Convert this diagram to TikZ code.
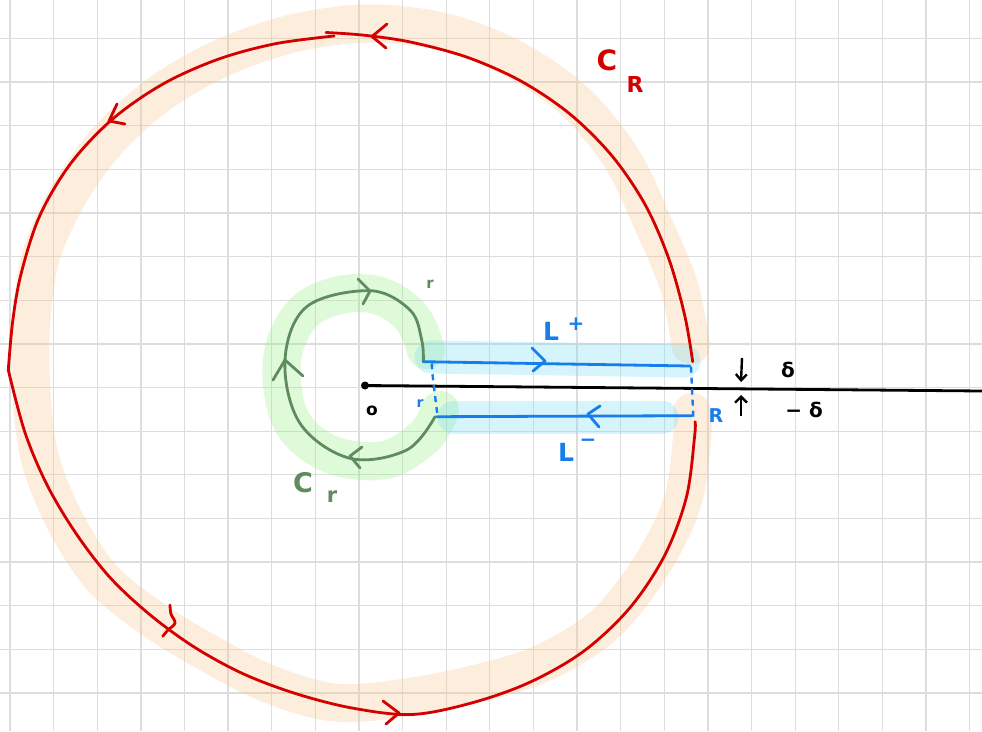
\documentclass[tikz,border=0pt]{standalone}
\usepackage{fontspec}
\setmainfont{DejaVu Sans}
\usetikzlibrary{arrows.meta}
\definecolor{redc}{RGB}{212,0,0}
\definecolor{greenc}{RGB}{95,140,95}
\definecolor{bluec}{RGB}{22,125,235}
\definecolor{orangeband}{RGB}{250,198,140}
\definecolor{greenband}{RGB}{150,240,128}
\definecolor{blueband}{RGB}{120,220,245}
\tikzset{
  gridline/.style={draw=gray!27,line width=1.3pt},
  band/.style={line width=38pt,line cap=round,line join=round,opacity=0.3},
  redline/.style={draw=redc,line width=2.8pt,line cap=round,line join=round},
  greenline/.style={draw=greenc,line width=2.8pt,line cap=round,line join=round},
  blueline/.style={draw=bluec,line width=2.8pt,line cap=round,line join=round},
  bluedash/.style={draw=bluec,line width=2.4pt,dash pattern=on 6pt off 5pt},
  lbl/.style={inner sep=0pt,outer sep=0pt},
}
\begin{document}
\begin{tikzpicture}[x=1pt,y=-1pt]
\useasboundingbox (0,0) rectangle (982,731);
\fill[white] (0,0) rectangle (982,731);
% grid
\foreach \i in {0,...,22} \draw[gridline] ({10+43.62*\i},0) -- ({10+43.62*\i},731);
\foreach \j in {0,...,15} \draw[gridline] (0,{38.3+43.65*\j}) -- (982,{38.3+43.65*\j});

% highlighter bands
\draw[band,draw=orangeband] plot[smooth,tension=0.55] coordinates {
 (690.7,345.4) (679.4,287.3) (652.3,222) (620.9,157.3) (574.2,100.7) (513.2,58.7) (443.9,32.1) (370.4,23.5) (297.7,32.3) (229.1,54.8) (166.3,89) (112.3,135.3) (70.2,192) (41.1,255.7) (31,324.2) (31.4,391.8) (40,458.6) (65.1,521.2) (101.8,577.6) (153.8,619.8) (209.9,653.9) (269.2,684.1) (334.8,702.6) (403.2,698) (471,685) (539.9,664.3) (603,626) (649.7,568.3) (682.5,501.9) (692.8,429) (692,412)};
\draw[band,draw=greenband] plot[smooth,tension=0.6] coordinates {
 (426,350) (412,318) (380,296) (340,295) (302,314) (282,360) (291,420) (330,454) (385,460) (425,436) (440,410)};
\draw[band,draw=blueband,line width=33pt] (431,357) -- (684,361);
\draw[band,draw=blueband,line width=33pt] (454,417) -- (662,417);

% axis
\coordinate (O) at (365,385.5);
\coordinate (axisend) at (982,391);
\draw[black,line width=2.8pt] (O) -- (axisend);
\fill[black] (O) circle (4pt);

% big circle C_R
\draw[redline] plot[smooth,tension=0.55] coordinates {
 (692.7,361.7) (684.9,316.3) (669.1,259.6) (645.6,205.5) (612.5,156.5) (570.5,114.5) (521.5,81.4) (467.6,57.4) (410.7,42.1) (363.9,35.2) (326,32.5)};
\draw[redline] plot[smooth,tension=0.55] coordinates {
 (334.2,36) (275.5,43.7) (218,59.3) (163,84) (113,118.7) (70.9,163.2) (39.7,215.9) (21.1,273.8) (12.7,321.3) (8.3,370)};
\draw[redline] plot[smooth,tension=0.55] coordinates {
 (8.3,370) (25,432.6) (47.5,485.8) (76.6,534.3) (110.3,577.8) (150.5,615.2) (194.8,647.4) (243.2,673.8) (295.8,693.6) (352,708) (411.7,714.5) (471.4,703) (529.5,682.4) (583.7,651.2) (629.7,608) (664.6,555.5) (686.5,496.8) (694.7,435.4) (695,421.7)};
% red arrow marks
\draw[redline] (387,24) -- (372,36.5) -- (386,48);
\draw[redline] (117,104) -- (109,121) -- (125,124);
\draw[redline] plot[smooth,tension=0.6] coordinates {(170,605) (171,614) (175,623) (168,630) (162.7,636.3)};
\draw[redline] (383,701) -- (399,713) -- (386,724);

% small circle C_r
\draw[greenline] plot[smooth,tension=0.6] coordinates {
 (423.3,361.7) (421.7,340) (410,310) (370,290.7) (306.7,306.7) (285,360) (300,423.3) (350,458.3) (406.7,450) (435,416.7)};
\draw[greenline] (358,279) -- (370,291) -- (363,304);
\draw[greenline] (273,380) -- (285,360) -- (303,376);
\draw[greenline] (362,447) -- (350,456) -- (360,468);

% L+ and L-
\coordinate (Lpa) at (423.3,361.7);
\coordinate (Lpb) at (690,366);
\coordinate (Lma) at (691.7,415.7);
\coordinate (Lmb) at (436.7,416.7);
\draw[blueline] (Lpa) -- (Lpb);
\draw[blueline] (Lma) -- (Lmb);
\draw[blueline] (532,348) -- (545,361) -- (533,371);
\draw[blueline] (600,406) -- (588,414) -- (599,427);
\coordinate (dl1) at (431.7,363.3);
\coordinate (dl2) at (437.3,415);
\coordinate (dr1) at (691,366.7);
\coordinate (dr2) at (693.3,416.7);
\draw[bluedash] (dl1) .. controls (433,385) and (436,400) .. (dl2);
\draw[bluedash] (dr1) -- (dr2);

% delta arrows
\coordinate (da1) at (742,358);
\coordinate (da2) at (741,382);
\coordinate (ua1) at (741,416);
\coordinate (ua2) at (741,395);
\draw[black,line width=2.4pt,-{Straight Barb[length=6pt,width=11pt]}] (da1) -- (da2);
\draw[black,line width=2.4pt,-{Straight Barb[length=6pt,width=12pt]}] (ua1) -- (ua2);

% labels
\node[lbl,text=redc,font=\bfseries\fontsize{28}{28}\selectfont] (CRc) at (607,60) {C};
\node[lbl,text=redc,font=\bfseries\fontsize{22}{22}\selectfont] (CRs) at (635,84) {R};
\node[lbl,text=bluec,font=\bfseries\fontsize{25}{25}\selectfont] (Lp) at (551,331) {L};
\node[lbl,text=bluec,font=\bfseries\fontsize{20}{20}\selectfont] (Lpp) at (576,324) {+};
\node[lbl,text=bluec,font=\bfseries\fontsize{25}{25}\selectfont] (Lm) at (566,452) {L};
\node[lbl,text=bluec,font=\bfseries\fontsize{20}{20}\selectfont] (Lmm) at (588,443) {−};
\node[lbl,font=\bfseries\fontsize{20}{20}\selectfont] (dp) at (788,370) {δ};
\node[lbl,font=\bfseries\fontsize{20}{20}\selectfont] (dm) at (804,410) {− δ};
\node[lbl,text=greenc,font=\bfseries\fontsize{15}{15}\selectfont] (rg) at (430,284) {r};
\node[lbl,text=bluec,font=\bfseries\fontsize{14}{14}\selectfont] (rb) at (420,404) {r};
\node[lbl,text=bluec,font=\bfseries\fontsize{19}{19}\selectfont] (Rb) at (716,416) {R};
\node[lbl,font=\bfseries\fontsize{17}{17}\selectfont] (zero) at (372,411) {o};
\node[lbl,text=greenc,font=\bfseries\fontsize{27}{27}\selectfont] (Crc) at (303,483) {C};
\node[lbl,text=greenc,font=\bfseries\fontsize{21}{21}\selectfont] (Crs) at (332,497) {r};
\end{tikzpicture}
\end{document}
